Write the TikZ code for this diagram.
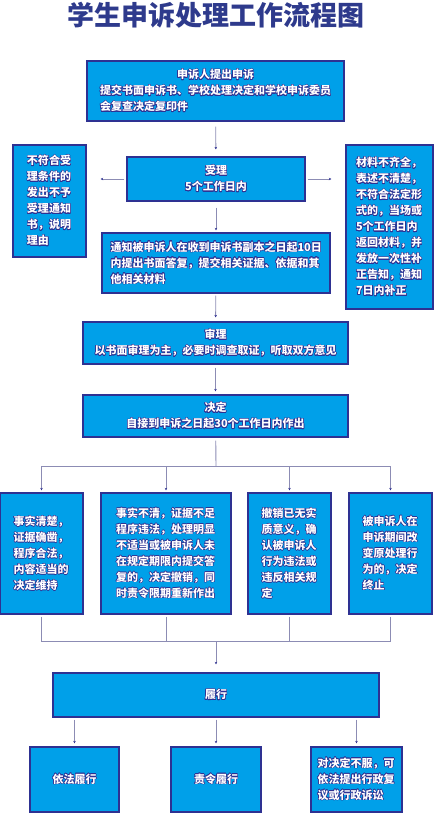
\documentclass[tikz,border=0pt]{standalone}
\usepackage{fontspec}
\setmainfont{Noto Sans CJK SC}
\usepackage{contour}
\contourlength{0.5pt}
\usetikzlibrary{arrows.meta}
\definecolor{boxfill}{HTML}{00A0E9}
\definecolor{boxline}{HTML}{2E3192}
\definecolor{linkgray}{HTML}{8C8CB4}
\definecolor{titleblue}{HTML}{2E3A8C}
\newcommand{\wl}[1]{\contour{boxline}{#1}}

\begin{document}
\begin{tikzpicture}[x=1pt, y=-1pt, font=\fontsize{11}{16}\selectfont\bfseries,
  box/.style={draw=boxline, fill=boxfill, line width=1.2pt, inner sep=0pt, text=white, align=center},
  link/.style={draw=linkgray, line width=0.9pt},
  arr/.style={link, -{Stealth[length=2.5pt, width=2.5pt, color=boxline]}}]
\useasboundingbox (0,0) rectangle (435,813);
% title
\node[font=\fontsize{27}{30}\selectfont\bfseries, text=titleblue] (title) at (216,15) {学生申诉处理工作流程图};
% application
\node[box, minimum width=257pt, minimum height=60pt, text width=231pt, align=left] (apply) at (215.5,91)
  {\makebox[231pt]{\wl{申诉人提出申诉}}\\\wl{提交书面申诉书、学校处理决定和学校申诉委员}\\\wl{会复查决定复印件}};
% acceptance and side outcomes
\node[box, minimum width=178pt, minimum height=44pt] (shouli) at (216,179)
  {\wl{受理}\\\wl{5个工作日内}};
\node[box, minimum width=73pt, minimum height=112pt, text width=45pt, align=left] (reject) at (49.5,201)
  {\wl{不符合受}\\\wl{理条件的}\\\wl{发出不予}\\\wl{受理通知}\\\wl{书，说明}\\\wl{理由}};
\node[box, minimum width=87pt, minimum height=164pt, text width=67pt, align=left] (buzheng) at (389.5,227)
  {\wl{材料不齐全，}\\\wl{表述不清楚，}\\\wl{不符合法定形}\\\wl{式的，当场或}\\\wl{5个工作日内}\\\wl{返回材料，并}\\\wl{发放一次性补}\\\wl{正告知，通知}\\\wl{7日内补正}};
\node[box, minimum width=228pt, minimum height=60pt, text width=211pt, align=left] (notify) at (216,263)
  {\wl{通知被申诉人在收到申诉书副本之日起10日}\\\wl{内提出书面答复，提交相关证据、依据和其}\\\wl{他相关材料}};
% review and decision
\node[box, minimum width=265pt, minimum height=42pt] (shenli) at (215.5,343)
  {\wl{审理}\\\wl{以书面审理为主，必要时调查取证，听取双方意见}};
\node[box, minimum width=265pt, minimum height=42pt] (jueding) at (215.5,416)
  {\wl{决定}\\\wl{自接到申诉之日起30个工作日内作出}};
% four kinds of decision
\node[box, minimum width=83pt, minimum height=121pt, text width=56pt, align=left] (weichi) at (41.5,553.5)
  {\wl{事实清楚，}\\\wl{证据确凿，}\\\wl{程序合法，}\\\wl{内容适当的}\\\wl{决定维持}};
\node[box, minimum width=130pt, minimum height=121pt, text width=100pt, align=left] (chexiao) at (166,553.5)
  {\wl{事实不清，证据不足}\\\wl{程序违法，处理明显}\\\wl{不适当或被申诉人未}\\\wl{在规定期限内提交答}\\\wl{复的，决定撤销，同}\\\wl{时责令限期重新作出}};
\node[box, minimum width=83pt, minimum height=121pt, text width=56pt, align=left] (queren) at (289.5,553.5)
  {\wl{撤销已无实}\\\wl{质意义，确}\\\wl{认被申诉人}\\\wl{行为违法或}\\\wl{违反相关规}\\\wl{定}};
\node[box, minimum width=83pt, minimum height=121pt, text width=56pt, align=left] (zhongzhi) at (390.5,553.5)
  {\wl{被申诉人在}\\\wl{申诉期间改}\\\wl{变原处理行}\\\wl{为的，决定}\\\wl{终止}};
% performance
\node[box, minimum width=326pt, minimum height=44pt] (lvxing) at (216,695) {\wl{履行}};
\node[box, minimum width=89pt, minimum height=65pt] (yifa) at (74.5,779.5) {\wl{依法履行}};
\node[box, minimum width=90pt, minimum height=65pt] (zeling) at (216,779.5) {\wl{责令履行}};
\node[box, minimum width=91pt, minimum height=65pt, text width=78pt, align=left] (fuyi) at (356.5,779.5)
  {\wl{对决定不服，可}\\\wl{依法提出行政复}\\\wl{议或行政诉讼}};
% connectors
\draw[arr, shorten <=5pt, shorten >=7pt] (apply) -- (shouli);
\draw[arr, shorten <=2pt, shorten >=14pt] (shouli.west) -- (reject.east |- shouli.west);
\draw[arr, shorten <=2pt, shorten >=14pt] (shouli.east) -- (buzheng.west |- shouli.east);
\draw[arr, shorten <=6pt, shorten >=2pt] (shouli) -- (notify);
\draw[arr, shorten <=2pt, shorten >=4pt] (notify) -- (shenli);
\draw[arr, shorten <=3pt, shorten >=3pt] (shenli) -- (jueding);
\coordinate (split) at (216,466);
\draw[link, shorten <=3pt] (jueding) -- (split);
\foreach \n in {weichi,chexiao,queren,zhongzhi}
  \draw[arr, shorten >=2pt] (split) -| (\n.north);
\coordinate (merge) at (216,641);
\foreach \n in {weichi,chexiao,queren,zhongzhi}
  \draw[link, shorten <=2pt] (\n.south) |- (merge);
\draw[arr, shorten >=8pt] (merge) -- (lvxing);
\foreach \n in {yifa,zeling,fuyi}
  \draw[arr, shorten <=2pt, shorten >=3pt] (lvxing.south -| \n.north) -- (\n.north);
\end{tikzpicture}
\end{document}
